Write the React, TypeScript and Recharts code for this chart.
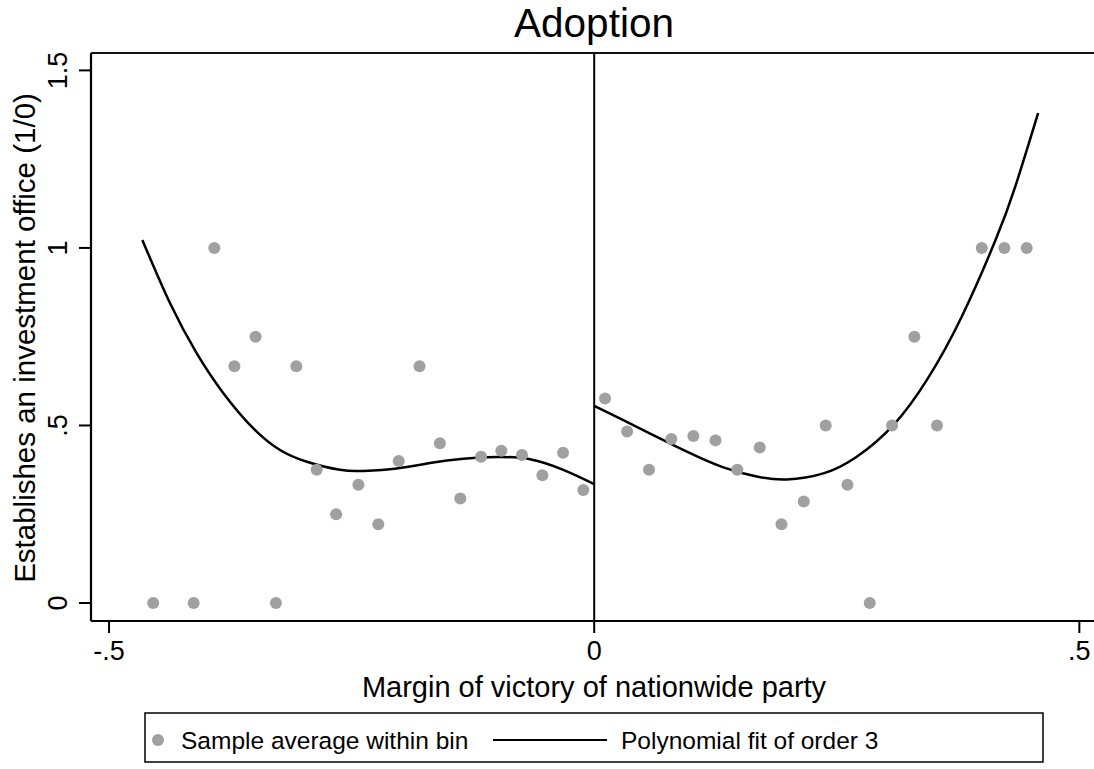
import React from 'react';
import {
  ComposedChart, Scatter, Line, XAxis, YAxis, ReferenceLine,
} from 'recharts';

// bin averages
const binX = [
  -0.4545, -0.4128, -0.3915, -0.3708, -0.349, -0.328, -0.307, -0.286, -0.266, -0.243,
  -0.2225, -0.2015, -0.18, -0.159, -0.138, -0.1166, -0.0957, -0.0744, -0.0534, -0.0321, -0.0112,
  0.0112, 0.0339, 0.0565, 0.0795, 0.1022, 0.125, 0.1475, 0.1706, 0.193, 0.216,
  0.2386, 0.261, 0.284, 0.307, 0.33, 0.3533, 0.3994, 0.4227, 0.4457,
];
const binY = [
  0, 0, 1, 0.667, 0.75, 0, 0.667, 0.375, 0.25, 0.333,
  0.222, 0.4, 0.667, 0.45, 0.294, 0.412, 0.429, 0.417, 0.36, 0.423, 0.318,
  0.576, 0.483, 0.375, 0.462, 0.47, 0.458, 0.375, 0.438, 0.222, 0.286,
  0.5, 0.333, 0, 0.5, 0.75, 0.5, 1, 1, 1,
];

// cubic fit, left of cutoff
const leftFitX = [-0.4657, -0.4371, -0.4096, -0.3822, -0.3513, -0.3238, -0.2962, -0.2619, -0.2379, -0.2035, -0.1692, -0.1349, -0.1004, -0.0661, -0.0318, 0];
const leftFitY = [1.0225, 0.844, 0.703, 0.591, 0.492, 0.431, 0.398, 0.375, 0.372, 0.379, 0.394, 0.406, 0.411, 0.405, 0.375, 0.335];

// cubic fit, right of cutoff
const rightFitX = [0, 0.03, 0.0645, 0.0988, 0.1331, 0.1675, 0.1984, 0.2362, 0.2706, 0.3088, 0.3437, 0.3785, 0.4133, 0.4342, 0.4575];
const rightFitY = [0.555, 0.515, 0.468, 0.422, 0.382, 0.356, 0.348, 0.365, 0.412, 0.5025, 0.632, 0.805, 1.02, 1.175, 1.38];

const xTicks = [-0.5, 0, 0.5];
const xTickLabels = ['-.5', '0', '.5'];
const yTicks = [0, 0.5, 1, 1.5];
const yTickLabels = ['0', '.5', '1', '1.5'];

const bins = binX.map((x, i) => ({ x, y: binY[i] }));
const leftFit = leftFitX.map((x, i) => ({ x, y: leftFitY[i] }));
const rightFit = rightFitX.map((x, i) => ({ x, y: rightFitY[i] }));

const FONT = '"Liberation Sans", Arial, Helvetica, sans-serif';
const X_DOMAIN: [number, number] = [-0.5186, 0.5151];
const Y_DOMAIN: [number, number] = [-0.0507, 1.549];

const XTick = (props: any) => {
  const i = xTicks.indexOf(props.payload.value);
  return (
    <text x={props.x} y={props.y + 27} textAnchor="middle" fontSize={27} fontFamily={FONT} fill="#000">
      {xTickLabels[i]}
    </text>
  );
};

const YTick = (props: any) => {
  const i = yTicks.indexOf(props.payload.value);
  return (
    <text transform={`translate(${props.x - 12},${props.y}) rotate(-90)`} textAnchor="middle"
      fontSize={27} fontFamily={FONT} fill="#000">
      {yTickLabels[i]}
    </text>
  );
};

const dot = (props: any) => <circle cx={props.cx} cy={props.cy} r={6} fill="#a0a0a0" />;

export default function App() {
  return (
    <div style={{ position: 'absolute', left: 0, top: 0, width: 1094, height: 769, background: '#fff' }}>
      <ComposedChart width={1094} height={769} margin={{ top: 53, right: 0, bottom: 0, left: 0 }}>
        <XAxis type="number" dataKey="x" domain={X_DOMAIN} allowDataOverflow
          ticks={xTicks} tick={<XTick />} tickSize={12} tickMargin={0} height={148}
          axisLine={{ stroke: '#000', strokeWidth: 2.2 }} tickLine={{ stroke: '#000', strokeWidth: 2 }} />
        <YAxis type="number" dataKey="y" domain={Y_DOMAIN} allowDataOverflow width={91}
          ticks={yTicks} tick={<YTick />} tickSize={12} tickMargin={0}
          axisLine={{ stroke: '#000', strokeWidth: 2.2 }} tickLine={{ stroke: '#000', strokeWidth: 2 }} />
        {/* plot region top border */}
        <ReferenceLine y={Y_DOMAIN[1]} stroke="#111" strokeWidth={2} />
        <ReferenceLine x={0} stroke="#000" strokeWidth={2} />
        <Scatter data={bins} dataKey="y" shape={dot} isAnimationActive={false} />
        <Line data={leftFit} dataKey="y" type="natural" stroke="#000" strokeWidth={2.5} dot={false}
          activeDot={false} isAnimationActive={false} />
        <Line data={rightFit} dataKey="y" type="natural" stroke="#000" strokeWidth={2.5} dot={false}
          activeDot={false} isAnimationActive={false} />
      </ComposedChart>

      <svg width={1094} height={769} style={{ position: 'absolute', left: 0, top: 0, pointerEvents: 'none' }}
        fontFamily={FONT} fill="#000">
        <text x={594} y={37} textAnchor="middle" fontSize={40.5}>Adoption</text>
        <text x={594} y={697} textAnchor="middle" fontSize={29}>Margin of victory of nationwide party</text>
        <text transform="translate(35,338) rotate(-90)" textAnchor="middle" fontSize={29.5}>
          Establishes an investment office (1/0)
        </text>
        <rect x={145} y={713} width={898} height={49} fill="none" stroke="#000" strokeWidth={1.5} />
        <circle cx={158} cy={740} r={6} fill="#a0a0a0" />
        <text x={181} y={749} fontSize={24.5}>Sample average within bin</text>
        <line x1={493} y1={740} x2={607} y2={740} stroke="#000" strokeWidth={2} />
        <text x={621} y={749} fontSize={24.5}>Polynomial fit of order 3</text>
      </svg>
    </div>
  );
}
